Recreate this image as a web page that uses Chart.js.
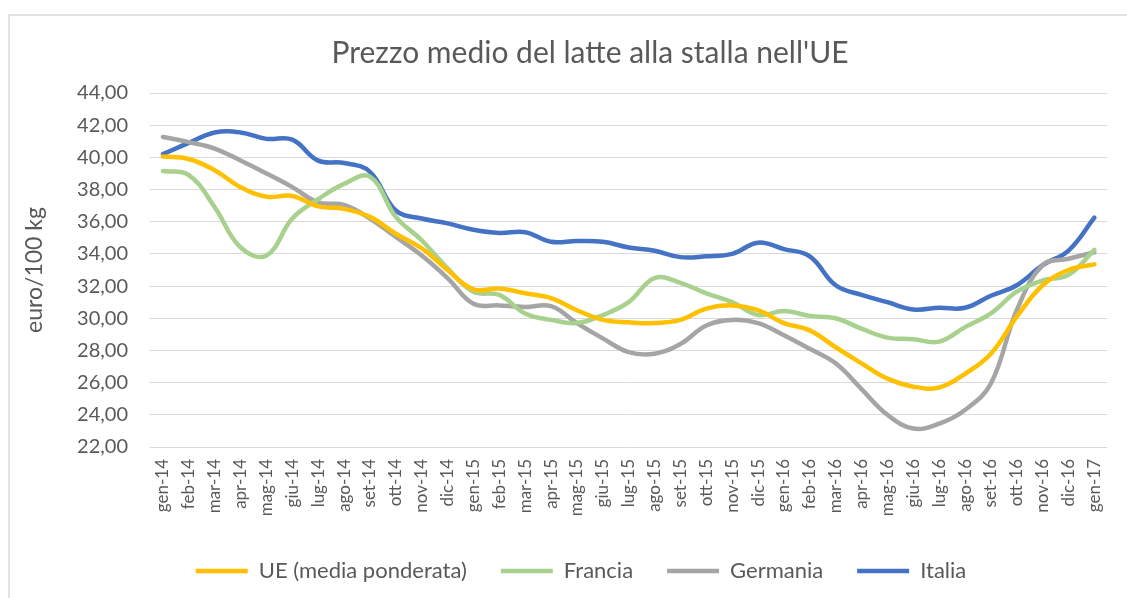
<!DOCTYPE html>
<html>
<head>
<meta charset="utf-8">
<script src="https://cdn.jsdelivr.net/npm/chart.js@4"></script>
<style>
  html, body { margin: 0; padding: 0; background: #fff; overflow: hidden; }
  #frame { position: absolute; left: 8px; top: 14px; width: 1130px; height: 600px;
           border-left: 2px solid #e3e3e3; border-top: 2px solid #e3e3e3; }
  #wrap { position: absolute; left: 0; top: 0; width: 1127px; height: 598px; }
</style>
</head>
<body>
<div id="frame"></div>
<div id="wrap"><canvas id="latte"></canvas></div>
<script>
var mesi = ['gen-14','feb-14','mar-14','apr-14','mag-14','giu-14','lug-14','ago-14','set-14','ott-14','nov-14','dic-14',
            'gen-15','feb-15','mar-15','apr-15','mag-15','giu-15','lug-15','ago-15','set-15','ott-15','nov-15','dic-15',
            'gen-16','feb-16','mar-16','apr-16','mag-16','giu-16','lug-16','ago-16','set-16','ott-16','nov-16','dic-16',
            'gen-17'];

var ue = [40.05, 39.9, 39.2, 38.15, 37.55, 37.6, 36.95, 36.8, 36.3, 35.25, 34.35, 33.0,
          31.8, 31.85, 31.55, 31.25, 30.5, 29.9, 29.75, 29.7, 29.9, 30.6, 30.8, 30.5,
          29.7, 29.25, 28.2, 27.2, 26.25, 25.75, 25.7, 26.55, 27.8, 30.1, 32.05, 33.0,
          33.35];
var francia = [39.15, 38.9, 36.9, 34.4, 33.9, 36.2, 37.4, 38.35, 38.8, 36.3, 34.85, 33.1,
               31.65, 31.45, 30.3, 29.9, 29.7, 30.2, 31.0, 32.5, 32.2, 31.55, 31.0, 30.2,
               30.45, 30.15, 30.0, 29.35, 28.8, 28.7, 28.55, 29.45, 30.3, 31.65, 32.35, 32.7,
               34.25];
var germania = [41.27, 40.95, 40.55, 39.8, 39.0, 38.15, 37.2, 37.05, 36.2, 35.05, 33.9, 32.5,
                30.9, 30.8, 30.7, 30.75, 29.7, 28.75, 27.9, 27.8, 28.4, 29.55, 29.9, 29.7,
                28.95, 28.1, 27.2, 25.6, 24.0, 23.15, 23.45, 24.3, 25.95, 30.5, 33.3, 33.7,
                34.1];
var italia = [40.2, 40.9, 41.55, 41.55, 41.15, 41.1, 39.8, 39.65, 39.1, 36.7, 36.2, 35.9,
              35.5, 35.3, 35.35, 34.75, 34.8, 34.75, 34.4, 34.2, 33.8, 33.85, 34.0, 34.7,
              34.3, 33.85, 32.05, 31.45, 31.0, 30.55, 30.65, 30.65, 31.4, 32.05, 33.3, 34.2,
              36.25];

var grigio = '#595959';
var font = 'Lato, "Open Sans", sans-serif';

function serie(label, data, colore) {
    return {
        label: label,
        data: data,
        borderColor: colore,
        backgroundColor: colore,
        borderWidth: 4.5,
        borderCapStyle: 'round',
        tension: 0.4,
        pointRadius: 0,
        fill: false
    };
}

// titolo e legenda leggermente spostati a destra come nell'originale
var sposta = {
    id: 'sposta',
    afterLayout: function (chart) {
        chart.legend.left += 25;
        chart.legend.right += 25;
        chart.titleBlock.left += 34;
        chart.titleBlock.right += 34;
    }
};

var ctx = document.getElementById('latte').getContext('2d');
var grafico = new Chart(ctx, {
    type: 'line',
    data: {
        labels: mesi,
        datasets: [
            serie('UE (media ponderata)', ue, '#FFC000'),
            serie('Francia', francia, '#A9D18E'),
            serie('Germania', germania, '#A5A5A5'),
            serie('Italia', italia, '#4472C4')
        ]
    },
    plugins: [sposta],
    options: {
        responsive: true,
        maintainAspectRatio: false,
        animation: false,
        layout: { padding: { left: 0, right: 15, top: 0, bottom: 6 } },
        plugins: {
            title: {
                display: true,
                text: "Prezzo medio del latte alla stalla nell'UE",
                color: grigio,
                font: { family: font, size: 30, weight: 'normal' },
                padding: { top: 35, bottom: 22 }
            },
            legend: {
                position: 'bottom',
                labels: {
                    usePointStyle: true,
                    pointStyle: 'line',
                    pointStyleWidth: 52,
                    color: grigio,
                    font: { family: font, size: 22 },
                    padding: 34
                }
            },
            tooltip: { enabled: false }
        },
        scales: {
            x: {
                offset: true,
                grid: { display: false, drawTicks: false },
                border: { display: false },
                ticks: {
                    color: grigio,
                    font: { family: font, size: 17 },
                    minRotation: 90,
                    maxRotation: 90,
                    autoSkip: false,
                    padding: 12
                },
                afterFit: function (scale) { scale.height = 79; }
            },
            y: {
                min: 22,
                max: 44,
                grid: { color: '#d9d9d9', lineWidth: 1, drawTicks: false },
                border: { display: false },
                ticks: {
                    stepSize: 2,
                    color: grigio,
                    font: { family: font, size: 20 },
                    padding: 22,
                    callback: function (v) { return v.toFixed(2).replace('.', ','); }
                },
                title: {
                    display: true,
                    text: 'euro/100 kg',
                    color: grigio,
                    font: { family: font, size: 23 },
                    padding: { top: 21, bottom: 0 }
                },
                afterFit: function (scale) { scale.width = 150; }
            }
        }
    }
});
</script>
</body>
</html>
